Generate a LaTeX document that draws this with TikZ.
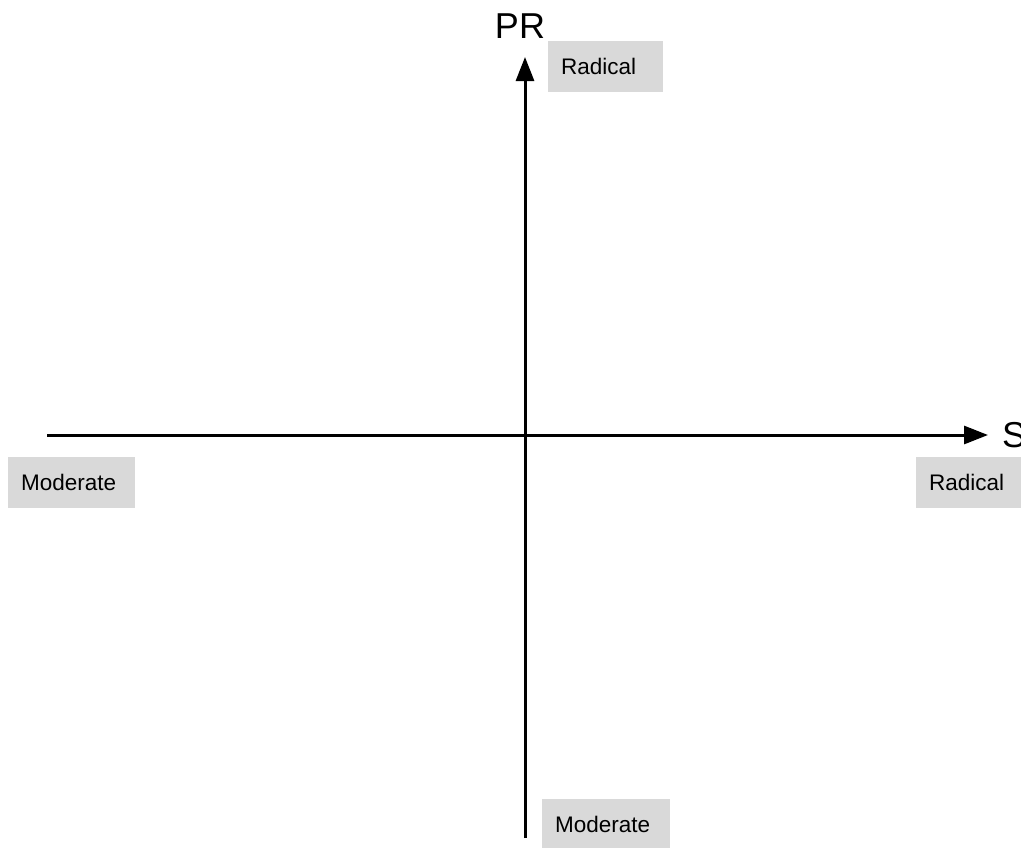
\documentclass[tikz,border=0pt]{standalone}
\usepackage{fontspec}
\setmainfont{Liberation Sans}
\usetikzlibrary{arrows.meta}
\definecolor{tagfill}{HTML}{D9D9D9}
\begin{document}
\begin{tikzpicture}[x=1pt,y=-1pt,
  tag/.style={fill=tagfill, anchor=north west, inner xsep=13pt, inner ysep=0pt,
    minimum height=51pt, align=left, font=\fontsize{22.5}{27}\selectfont},
  axis/.style={line width=3pt, -{Triangle[length=24pt,width=18pt]}}]
  \useasboundingbox (0,0) rectangle (1021,847);
  \clip (0,0) rectangle (1021,847);

  % axes
  \coordinate (west) at (47,435);
  \coordinate (east) at (988,435);
  \coordinate (south) at (525,838);
  \coordinate (north) at (525,57);
  \draw [axis] (west) to (east);
  \draw [axis] (south) to (north);

  \node [anchor=base, font=\fontsize{36}{40}\selectfont] (prlabel) at (520,38) {PR};
  \node [anchor=base west, inner sep=0pt, font=\fontsize{36}{40}\selectfont] (slabel) at (1002,447) {S};

  % quadrant tags
  \node [tag, text width=89pt] (topradical) at (548,41) {Radical};
  \node [tag, text width=101pt] (leftmoderate) at (8,457) {Moderate};
  \node [tag, text width=89pt] (rightradical) at (916,457) {Radical};
  \node [tag, text width=102pt] (bottommoderate) at (542,799) {Moderate};
\end{tikzpicture}
\end{document}
